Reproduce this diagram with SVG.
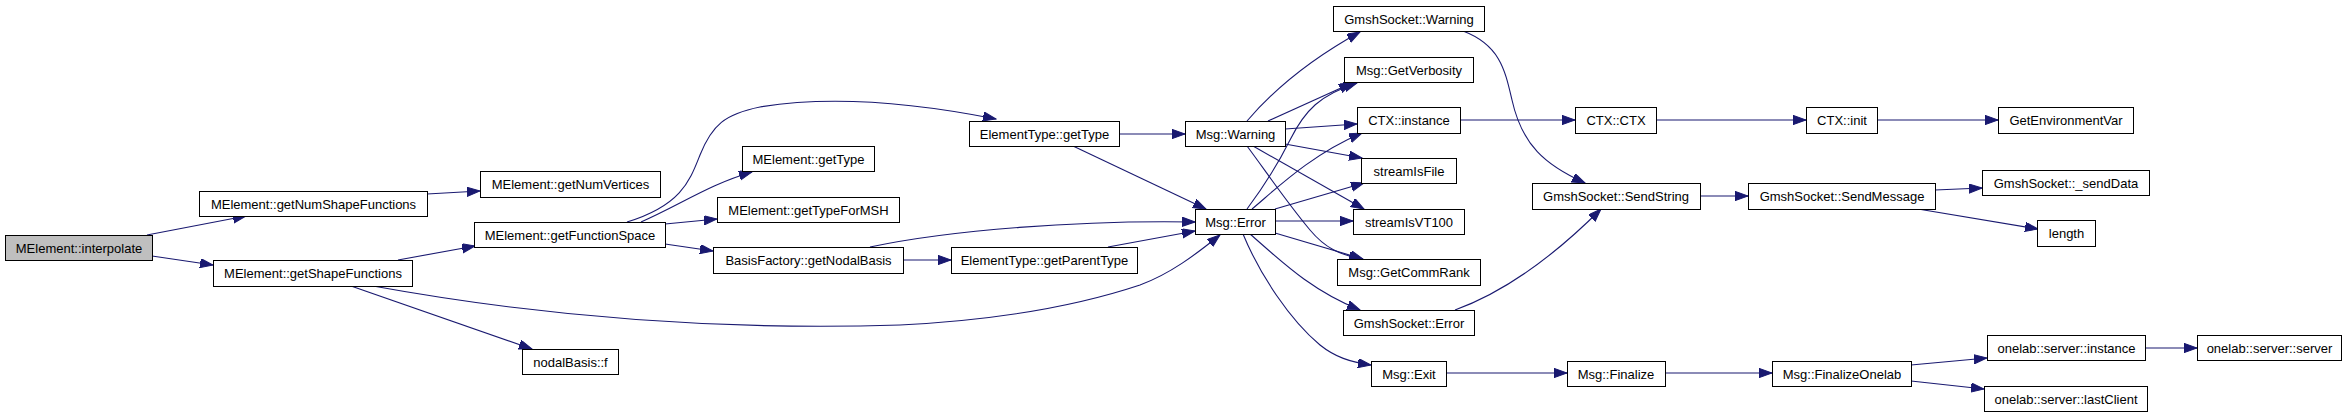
<svg xmlns="http://www.w3.org/2000/svg" width="2347" height="417" viewBox="0 0 2347 417">
<style>
.n rect{fill:#ffffff;stroke:#000000;stroke-width:1}
.n.root rect{fill:#bfbfbf}
.n text{font-family:"Liberation Sans",Arial,sans-serif;font-size:13px;text-anchor:middle;fill:#000000}
.e path{fill:none;stroke:#191970;stroke-width:1.1}
</style>
<defs>
<marker id="ah" markerUnits="userSpaceOnUse" markerWidth="14" markerHeight="10" refX="13" refY="4.65" orient="auto">
<path d="M0,0 L13,4.65 L0,9.3 z" fill="#191970" stroke="#191970" stroke-width="1"/>
</marker>
</defs>
<rect width="2347" height="417" fill="#ffffff"/>
<g id="edges" class="e">
<path marker-end="url(#ah)" d="M147,235 L246,216"/>
<path marker-end="url(#ah)" d="M152,256 L213,265"/>
<path marker-end="url(#ah)" d="M427,194 L480,191"/>
<path marker-end="url(#ah)" d="M398,260 L475,246"/>
<path marker-end="url(#ah)" d="M351,286 L532,349"/>
<path marker-end="url(#ah)" d="M373,286 C560,320 740,330 900,325 C1000,320 1080,305 1140,285 C1170,274 1195,255 1220,235"/>
<path marker-end="url(#ah)" d="M627,222 C682,205 690,180 700,155 C712,125 725,114 760,107 C820,97 900,100 996,119"/>
<path marker-end="url(#ah)" d="M641,222 C680,205 710,184 752,172"/>
<path marker-end="url(#ah)" d="M665,224 L717,219"/>
<path marker-end="url(#ah)" d="M665,244 L713,251"/>
<path marker-end="url(#ah)" d="M870,247 C950,230 1080,220 1195,222"/>
<path marker-end="url(#ah)" d="M903,260 L951,260"/>
<path marker-end="url(#ah)" d="M1108,247 L1195,231"/>
<path marker-end="url(#ah)" d="M1119,134 L1185,134"/>
<path marker-end="url(#ah)" d="M1073,146 L1206,209"/>
<path marker-end="url(#ah)" d="M1247,121 C1265,100 1300,65 1360,32"/>
<path marker-end="url(#ah)" d="M1268,121 L1352,83"/>
<path marker-end="url(#ah)" d="M1285,129 L1357,124"/>
<path marker-end="url(#ah)" d="M1285,144 L1362,158"/>
<path marker-end="url(#ah)" d="M1253,146 L1364,209"/>
<path marker-end="url(#ah)" d="M1247,146 C1265,170 1285,200 1310,230 C1325,248 1340,255 1362,259"/>
<path marker-end="url(#ah)" d="M1247,209 C1265,185 1280,160 1290,140 C1305,110 1320,95 1357,83"/>
<path marker-end="url(#ah)" d="M1252,209 C1275,190 1310,155 1362,133"/>
<path marker-end="url(#ah)" d="M1275,209 L1364,183"/>
<path marker-end="url(#ah)" d="M1275,221 L1353,221"/>
<path marker-end="url(#ah)" d="M1275,233 L1363,259"/>
<path marker-end="url(#ah)" d="M1250,234 C1280,260 1310,290 1360,310"/>
<path marker-end="url(#ah)" d="M1243,234 C1260,275 1290,320 1320,345 C1335,357 1350,362 1371,365"/>
<path marker-end="url(#ah)" d="M1463,31 C1500,45 1505,70 1512,100 C1522,145 1545,165 1585,183"/>
<path marker-end="url(#ah)" d="M1455,310 C1510,290 1560,250 1601,209"/>
<path marker-end="url(#ah)" d="M1460,120 L1575,120"/>
<path marker-end="url(#ah)" d="M1656,120 L1806,120"/>
<path marker-end="url(#ah)" d="M1877,120 L1998,120"/>
<path marker-end="url(#ah)" d="M1700,196 L1748,196"/>
<path marker-end="url(#ah)" d="M1935,190 L1982,188"/>
<path marker-end="url(#ah)" d="M1918,209 L2038,229"/>
<path marker-end="url(#ah)" d="M1446,373 L1567,373"/>
<path marker-end="url(#ah)" d="M1665,373 L1772,373"/>
<path marker-end="url(#ah)" d="M1911,365 L1987,358"/>
<path marker-end="url(#ah)" d="M1911,381 L1984,389"/>
<path marker-end="url(#ah)" d="M2145,348 L2197,348"/>
</g>
<g id="n0" class="n root"><rect x="5.5" y="235.5" width="147" height="25"/><text x="79" y="252.5">MElement::interpolate</text></g>
<g id="n1" class="n"><rect x="199.5" y="191.5" width="228" height="25"/><text x="313.5" y="208.5">MElement::getNumShapeFunctions</text></g>
<g id="n2" class="n"><rect x="213.5" y="260.5" width="199" height="26"/><text x="313" y="278">MElement::getShapeFunctions</text></g>
<g id="n3" class="n"><rect x="480.5" y="171.5" width="180" height="26"/><text x="570.5" y="189">MElement::getNumVertices</text></g>
<g id="n4" class="n"><rect x="474.5" y="222.5" width="191" height="25"/><text x="570" y="239.5">MElement::getFunctionSpace</text></g>
<g id="n5" class="n"><rect x="742.5" y="146.5" width="132" height="25"/><text x="808.5" y="163.5">MElement::getType</text></g>
<g id="n6" class="n"><rect x="717.5" y="197.5" width="182" height="25"/><text x="808.5" y="214.5">MElement::getTypeForMSH</text></g>
<g id="n7" class="n"><rect x="713.5" y="247.5" width="190" height="26"/><text x="808.5" y="265">BasisFactory::getNodalBasis</text></g>
<g id="n8" class="n"><rect x="522.5" y="349.5" width="96" height="25"/><text x="570.5" y="366.5">nodalBasis::f</text></g>
<g id="n9" class="n"><rect x="969.5" y="121.5" width="150" height="25"/><text x="1044.5" y="138.5">ElementType::getType</text></g>
<g id="n10" class="n"><rect x="951.5" y="247.5" width="186" height="26"/><text x="1044.5" y="265">ElementType::getParentType</text></g>
<g id="n11" class="n"><rect x="1185.5" y="121.5" width="100" height="25"/><text x="1235.5" y="138.5">Msg::Warning</text></g>
<g id="n12" class="n"><rect x="1195.5" y="209.5" width="80" height="25"/><text x="1235.5" y="226.5">Msg::Error</text></g>
<g id="n13" class="n"><rect x="1333.5" y="6.5" width="151" height="25"/><text x="1409" y="23.5">GmshSocket::Warning</text></g>
<g id="n14" class="n"><rect x="1344.5" y="57.5" width="129" height="25"/><text x="1409" y="74.5">Msg::GetVerbosity</text></g>
<g id="n15" class="n"><rect x="1357.5" y="107.5" width="103" height="26"/><text x="1409" y="125">CTX::instance</text></g>
<g id="n16" class="n"><rect x="1361.5" y="158.5" width="95" height="25"/><text x="1409" y="175.5">streamIsFile</text></g>
<g id="n17" class="n"><rect x="1353.5" y="209.5" width="111" height="25"/><text x="1409" y="226.5">streamIsVT100</text></g>
<g id="n18" class="n"><rect x="1337.5" y="259.5" width="143" height="26"/><text x="1409" y="277">Msg::GetCommRank</text></g>
<g id="n19" class="n"><rect x="1343.5" y="310.5" width="131" height="25"/><text x="1409" y="327.5">GmshSocket::Error</text></g>
<g id="n20" class="n"><rect x="1371.5" y="361.5" width="75" height="25"/><text x="1409" y="378.5">Msg::Exit</text></g>
<g id="n21" class="n"><rect x="1575.5" y="107.5" width="81" height="26"/><text x="1616" y="125">CTX::CTX</text></g>
<g id="n22" class="n"><rect x="1532.5" y="183.5" width="168" height="26"/><text x="1616" y="201">GmshSocket::SendString</text></g>
<g id="n23" class="n"><rect x="1567.5" y="361.5" width="98" height="25"/><text x="1616" y="378.5">Msg::Finalize</text></g>
<g id="n24" class="n"><rect x="1806.5" y="107.5" width="71" height="26"/><text x="1842" y="125">CTX::init</text></g>
<g id="n25" class="n"><rect x="1748.5" y="183.5" width="187" height="26"/><text x="1842" y="201">GmshSocket::SendMessage</text></g>
<g id="n26" class="n"><rect x="1772.5" y="361.5" width="139" height="25"/><text x="1842" y="378.5">Msg::FinalizeOnelab</text></g>
<g id="n27" class="n"><rect x="1998.5" y="107.5" width="135" height="26"/><text x="2066" y="125">GetEnvironmentVar</text></g>
<g id="n28" class="n"><rect x="1982.5" y="170.5" width="167" height="25"/><text x="2066" y="187.5">GmshSocket::_sendData</text></g>
<g id="n29" class="n"><rect x="2037.5" y="220.5" width="58" height="26"/><text x="2066.5" y="238">length</text></g>
<g id="n30" class="n"><rect x="1987.5" y="335.5" width="158" height="25"/><text x="2066.5" y="352.5">onelab::server::instance</text></g>
<g id="n31" class="n"><rect x="1984.5" y="386.5" width="163" height="25"/><text x="2066" y="403.5">onelab::server::lastClient</text></g>
<g id="n32" class="n"><rect x="2197.5" y="335.5" width="144" height="25"/><text x="2269.5" y="352.5">onelab::server::server</text></g>
</svg>
